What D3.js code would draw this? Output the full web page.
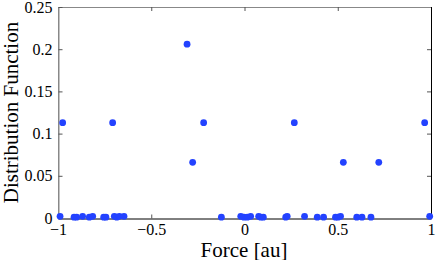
<!DOCTYPE html>
<html>
<head>
<meta charset="utf-8">
<script src="https://cdn.jsdelivr.net/npm/d3@7"></script>
<style>
  body { margin: 0; background: #fff; }
  text { font-family: "Liberation Serif", "DejaVu Serif", serif; }
</style>
</head>
<body>
<script>
// force values (x) and distribution values (y)
var forceVals = [-0.989, -0.914, -0.900, -0.868, -0.832, -0.814, -0.755, -0.743,
  -0.698, -0.685, -0.671, -0.646, -0.124, -0.020, -0.003, 0.015, 0.033, 0.076,
  0.087, 0.101, 0.221, 0.229, 0.322, 0.390, 0.424, 0.488, 0.501, 0.515, 0.602,
  0.630, 0.678, 0.993,
  -0.975, -0.707, -0.308, -0.278, -0.219, 0.267, 0.530, 0.720, 0.966]
var distVals = [0.002, 0.001, 0.001, 0.002, 0.001, 0.002, 0.001, 0.001,
  0.002, 0.001, 0.002, 0.002, 0.001, 0.002, 0.001, 0.001, 0.002, 0.002,
  0.001, 0.001, 0.001, 0.002, 0.002, 0.001, 0.001, 0.001, 0.001, 0.002, 0.001,
  0.001, 0.001, 0.002,
  0.113, 0.113, 0.206, 0.066, 0.113, 0.113, 0.066, 0.066, 0.113]

var xTicks = [-1, -0.5, 0, 0.5, 1]
var yTicks = [0, 0.05, 0.1, 0.15, 0.2, 0.25]

var config = {
  width: 436,
  height: 260,
  left: 58,
  right: 431,
  top: 7,
  bottom: 218,
  dot: '#2342ff',
  font: '"Liberation Serif", "DejaVu Serif", serif'
}

var svg = d3.select('body').append('svg')
  .attr('width', config.width)
  .attr('height', config.height)

var x = d3.scaleLinear().domain([-1, 1]).range([config.left, config.right])
var y = d3.scaleLinear().domain([0, 0.25]).range([config.bottom, config.top])

var fmt = d => d === 0 ? '0' : d3.format('~g')(d).replace('-', '\u2212')

// frame
svg.append('line').attr('x1', config.left).attr('x2', config.right)
  .attr('y1', config.top + 0.5).attr('y2', config.top + 0.5).attr('stroke', '#888')
svg.append('line').attr('x1', config.left + 0.5).attr('x2', config.left + 0.5)
  .attr('y1', config.top).attr('y2', config.bottom).attr('stroke', '#888')
svg.append('line').attr('x1', config.right + 0.5).attr('x2', config.right + 0.5)
  .attr('y1', config.top).attr('y2', config.bottom).attr('stroke', '#000')

var xAxis = svg.append('g')
  .attr('transform', 'translate(0,' + (config.bottom + 0.5) + ')')
  .call(d3.axisBottom(x).tickValues(xTicks).tickSizeInner(-4).tickSizeOuter(0).tickPadding(5).tickFormat(fmt))
var yAxis = svg.append('g')
  .attr('transform', 'translate(' + (config.left + 0.5) + ',0)')
  .call(d3.axisLeft(y).tickValues(yTicks).tickSizeInner(-4).tickSizeOuter(0).tickPadding(6).tickFormat(fmt))

xAxis.attr('font-family', config.font).attr('font-size', 16)
yAxis.attr('font-family', config.font).attr('font-size', 16)
xAxis.select('.domain').attr('stroke', '#000')
yAxis.select('.domain').attr('stroke', '#888')
svg.selectAll('.tick text').attr('fill', '#000')
svg.selectAll('.tick line').attr('stroke', '#555')

// mirrored ticks on top and right
svg.append('g').selectAll('line').data(xTicks.slice(1, -1)).join('line')
  .attr('x1', d => x(d) + 0.5).attr('x2', d => x(d) + 0.5)
  .attr('y1', config.top).attr('y2', config.top + 4).attr('stroke', '#555')
svg.append('g').selectAll('line').data(yTicks.slice(1, -1)).join('line')
  .attr('y1', d => y(d) + 0.5).attr('y2', d => y(d) + 0.5)
  .attr('x1', config.right - 4).attr('x2', config.right).attr('stroke', '#555')

// points
svg.append('g').selectAll('circle').data(forceVals).join('circle')
  .attr('cx', d => x(d))
  .attr('cy', (d, i) => y(distVals[i]))
  .attr('r', 3.4)
  .attr('fill', config.dot)

// labels
svg.append('text')
  .attr('x', 244)
  .attr('y', 256.5)
  .attr('text-anchor', 'middle')
  .attr('font-size', 21)
  .text('Force [au]')

svg.append('text')
  .attr('transform', 'translate(18,' + ((config.top + config.bottom) / 2) + ') rotate(-90)')
  .attr('text-anchor', 'middle')
  .attr('font-size', 21)
  .text('Distribution Function')
</script>
</body>
</html>
